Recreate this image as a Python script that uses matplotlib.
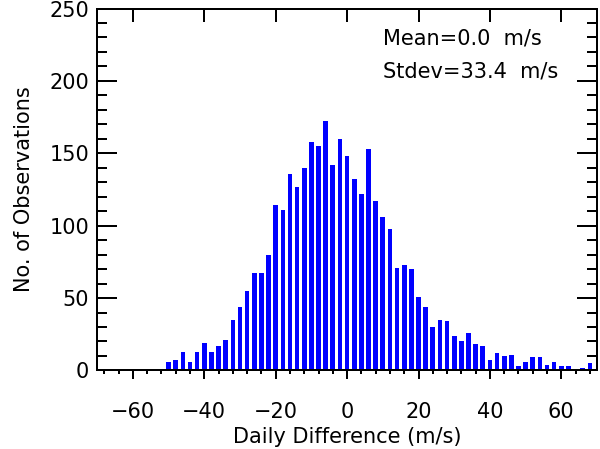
import matplotlib
matplotlib.use('Agg')
import matplotlib.pyplot as plt
from matplotlib.ticker import MultipleLocator

# histogram of daily differences, 2 m/s bins (centres)
bin_centres = list(range(-70, 72, 2))
counts = [0, 0, 0, 0, 0, 1, 0, 1, 0, 1,
          6, 7, 13, 6, 13, 19, 13, 17, 21, 35,
          44, 55, 67, 67, 80, 114, 111, 136, 127, 140,
          158, 155, 172, 142, 160, 148, 132, 122, 153, 117,
          106, 98, 71, 73, 70, 51, 44, 30, 35, 34,
          24, 20, 26, 18, 17, 7, 12, 10, 11, 3,
          6, 9, 9, 4, 6, 3, 3, 0, 2, 5, 0]

mean_text = 'Mean=0.0  m/s'
stdev_text = 'Stdev=33.4  m/s'
xlabel = 'Daily Difference (m/s)'
ylabel = 'No. of Observations'

plt.rcParams['font.family'] = 'DejaVu Sans'

PX = 72 / 100  # points per pixel at 100 dpi

fig = plt.figure(figsize=(6.0, 4.49), dpi=100)
ax = fig.add_axes([0.162, 0.175, 0.833, 0.806])

ax.bar(bin_centres, counts, width=1.3, color='#0000ff', linewidth=0)

ax.set_xlim(-70, 70)
ax.set_ylim(0, 250)

for sp in ax.spines.values():
    sp.set_linewidth(2 * PX)

ax.xaxis.set_major_locator(MultipleLocator(20))
ax.xaxis.set_minor_locator(MultipleLocator(4))
ax.yaxis.set_major_locator(MultipleLocator(50))
ax.yaxis.set_minor_locator(MultipleLocator(10))

ax.tick_params(axis='x', which='major', direction='out', length=9 * PX,
               width=2 * PX, labelsize=15, pad=23 * PX)
ax.tick_params(axis='x', which='minor', direction='out', length=4 * PX,
               width=2 * PX)
ax.tick_params(axis='y', which='major', direction='in', length=20 * PX,
               width=2 * PX, labelsize=15, left=True, right=True, pad=8 * PX)
ax.tick_params(axis='y', which='minor', direction='in', length=10 * PX,
               width=2 * PX, left=True, right=True)

# top axis: inward major ticks only
top = ax.secondary_xaxis('top')
top.xaxis.set_major_locator(MultipleLocator(20))
top.tick_params(direction='in', length=13 * PX, width=2 * PX, labeltop=False)
top.spines['top'].set_linewidth(2 * PX)

ax.set_xlabel(xlabel, fontsize=15, labelpad=3)
ax.set_ylabel(ylabel, fontsize=15, labelpad=11)

ax.text(0.572, 0.916, mean_text, transform=ax.transAxes, fontsize=15,
        ha='left', va='center')
ax.text(0.572, 0.825, stdev_text, transform=ax.transAxes, fontsize=15,
        ha='left', va='center')

fig.savefig('out.png', dpi=100)
